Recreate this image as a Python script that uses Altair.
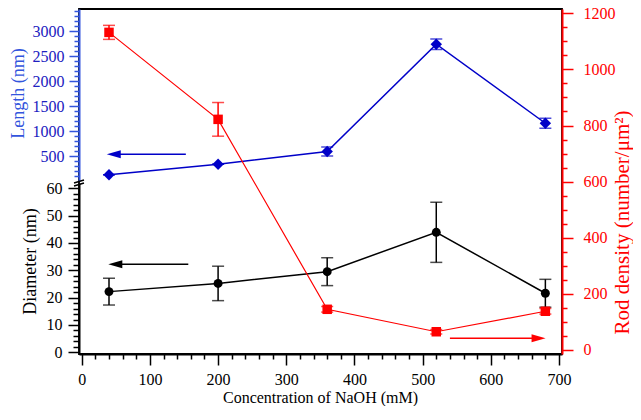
import altair as alt
import pandas as pd

# ---------------- data ----------------
conc = [40, 200, 360, 520, 680]                 # NaOH concentration (mM)
length = [125, 335, 590, 2735, 1155]            # Length (nm)
length_err = [0, 0, 90, 105, 100]
diameter = [22.2, 25.2, 29.5, 43.9, 21.6]       # Diameter (nm)
diameter_err = [4.9, 6.3, 5.1, 11.0, 5.1]
density = [1132, 822, 145, 65, 138]             # Rod density (number/um^2)
density_err = [25, 60, 10, 8, 10]

# arrows (x of head centre / shaft end, level on own axis)
blue_arrow = {"x1": [47], "x2": [152.7], "y": [534]}
black_arrow = {"x1": [49.3], "x2": [156.3], "y": [32.2]}
red_arrow = {"x1": [540], "x2": [670], "y": [41.7]}

x_major = list(range(0, 701, 100))
x_minor = [v for v in range(0, 701, 20) if v % 100]
len_major = list(range(500, 3001, 500))
len_minor = [v for v in range(100, 3401, 100) if v % 500 or v > 3000]
dia_major = list(range(0, 61, 10))
dia_minor = [v for v in range(0, 61, 2) if v % 10]
den_major = list(range(0, 1201, 200))
den_minor = [v for v in range(0, 1201, 50) if v % 200]

FONT = "Liberation Serif"
BLUE = "#0000c8"
BLUE_AX = "#3355dd"
BLUE_LAB = "#2020c0"
RED = "#ff0000"
BLACK = "#000000"

df = pd.DataFrame({
    "conc": conc,
    "length": length,
    "len_lo": [v - e for v, e in zip(length, length_err)],
    "len_hi": [v + e for v, e in zip(length, length_err)],
    "diameter": diameter,
    "dia_lo": [v - e for v, e in zip(diameter, diameter_err)],
    "dia_hi": [v + e for v, e in zip(diameter, diameter_err)],
    "density": density,
    "den_lo": [v - e for v, e in zip(density, density_err)],
    "den_hi": [v + e for v, e in zip(density, density_err)],
})

W, H = 483, 345
xscale = alt.Scale(domain=[-4, 704.4], nice=False, zero=False)
len_scale = alt.Scale(domain=[0, 3440], range=[172, 0], nice=False, zero=False)
dia_scale = alt.Scale(domain=[-0.62, 61.94], range=[345, 174], nice=False, zero=False)
den_scale = alt.Scale(domain=[-14.3, 1215.3], range=[345, 0], nice=False, zero=False)


def minor_axis(orient, values, color, size):
    return alt.Axis(orient=orient, values=values, labels=False, domain=False, grid=False,
                    tickSize=size, tickColor=color, tickWidth=1.5, title=None)


x_axis = alt.Axis(
    values=x_major, format="d", tickSize=11, tickColor=BLACK, tickWidth=1.5,
    domainColor=BLACK, domainWidth=1.8, labelColor=BLACK, labelFont=FONT,
    labelFontSize=16, labelPadding=6, labelOverlap=False, labelFlush=False,
    title="Concentration of NaOH (mM)", titleFont=FONT, titleFontSize=16,
    titleFontWeight="normal", titleColor=BLACK, titleX=241, titleY=43,
    titleBaseline="middle", titleAlign="center", grid=False,
)

len_axis = alt.Axis(
    orient="left", values=len_major, format="d",
    tickSize=10, tickColor=BLUE_AX, tickWidth=1.5,
    domainColor=BLUE_AX, domainWidth=2, labelColor=BLUE_LAB, labelFont=FONT,
    labelFontSize=16, labelPadding=5, labelOverlap=False, labelFlush=False,
    title="Length (nm)", titleFont=FONT, titleFontSize=18, titleFontWeight="normal",
    titleColor=BLUE_AX, titleX=-61, titleY=84, titleAngle=270,
    titleBaseline="middle", titleAlign="center", grid=False,
)

dia_axis = alt.Axis(
    orient="left", values=dia_major, format="d",
    tickSize=11, tickColor=BLACK, tickWidth=1.5,
    domainColor=BLACK, domainWidth=2, labelColor=BLACK, labelFont=FONT,
    labelFontSize=16, labelPadding=6, labelOverlap=False, labelFlush=False,
    title="Diameter (nm)", titleFont=FONT, titleFontSize=18, titleFontWeight="normal",
    titleColor=BLACK, titleX=-49, titleY=252, titleAngle=270,
    titleBaseline="middle", titleAlign="center", grid=False,
)

den_axis = alt.Axis(
    orient="right", values=den_major, format="d",
    tickSize=11, tickColor=RED, tickWidth=1.5,
    domainColor=RED, domainWidth=2, labelColor=RED, labelFont=FONT,
    labelFontSize=16, labelPadding=10, labelOverlap=False, labelFlush=False,
    title="Rod density (number/μm²)", titleFont=FONT, titleFontSize=21,
    titleFontWeight="normal", titleColor=RED, titleX=60, titleY=213, titleAngle=270,
    titleBaseline="middle", titleAlign="center", grid=False,
)

base = alt.Chart(df)
X_noaxis = alt.X("conc:Q", scale=xscale, axis=None)


def series(val, lo, hi, scale, axis, minor, color, shape, size, lw, arrow, arrow_dir,
           x_axis_main=None, x_axis_minor=None):
    Xa = alt.X("conc:Q", scale=xscale, axis=x_axis_main) if x_axis_main else X_noaxis
    Xr = alt.X("conc:Q", scale=xscale, axis=x_axis_minor) if x_axis_minor else X_noaxis
    rule = base.mark_rule(color=color, strokeWidth=1.5).encode(
        x=Xr, y=alt.Y(f"{lo}:Q", scale=scale, axis=minor), y2=f"{hi}:Q")
    cap_lo = base.mark_tick(orient="horizontal", size=12, thickness=1.5, color=color).encode(
        x=X_noaxis, y=alt.Y(f"{lo}:Q", scale=scale, axis=None))
    cap_hi = base.mark_tick(orient="horizontal", size=12, thickness=1.5, color=color).encode(
        x=X_noaxis, y=alt.Y(f"{hi}:Q", scale=scale, axis=None))
    line = base.mark_line(color=color, strokeWidth=lw).encode(
        x=Xa, y=alt.Y(f"{val}:Q", scale=scale, axis=axis))
    pts = base.mark_point(shape=shape, filled=True, size=size, color=color, opacity=1).encode(
        x=X_noaxis, y=alt.Y(f"{val}:Q", scale=scale, axis=None))
    adf = pd.DataFrame(arrow)
    shaft = alt.Chart(adf).mark_rule(color=color, strokeWidth=1.5).encode(
        x=alt.X("x1:Q", scale=xscale, axis=None), x2="x2:Q",
        y=alt.Y("y:Q", scale=scale, axis=None))
    head_x = "x1:Q" if arrow_dir == "left" else "x2:Q"
    head_shape = ("M -1 0 L 1 -0.57 L 1 0.57 Z" if arrow_dir == "left"
                  else "M 1 0 L -1 -0.57 L -1 0.57 Z")
    head = alt.Chart(adf).mark_point(shape=head_shape, filled=True, size=196, color=color,
                                     opacity=1).encode(
        x=alt.X(head_x, scale=xscale, axis=None), y=alt.Y("y:Q", scale=scale, axis=None))
    return [line, rule, cap_lo, cap_hi, pts, shaft, head]


blue_layers = series("length", "len_lo", "len_hi", len_scale, len_axis,
                     minor_axis("left", len_minor, BLUE_AX, 5), BLUE, "diamond", 130, 1.5,
                     blue_arrow, "left", x_axis_main=x_axis)

brk = alt.Chart(pd.DataFrame({"x": [-4], "y": [-30]})).mark_point(
    shape="M -1 0.1 L 1 -0.5 M -1 0.7 L 1 0.1", filled=False, size=100,
    stroke=BLACK, strokeWidth=1.5, opacity=1).encode(
    x=alt.X("x:Q", scale=xscale, axis=None), y=alt.Y("y:Q", scale=len_scale, axis=None))
blue = alt.layer(*blue_layers, brk).resolve_axis(y="independent", x="independent")

black = alt.layer(*series("diameter", "dia_lo", "dia_hi", dia_scale, dia_axis,
                          minor_axis("left", dia_minor, BLACK, 6), BLACK, "circle", 80, 1.5,
                          black_arrow, "left")).resolve_axis(y="independent", x="independent")
red = alt.layer(*series("density", "den_lo", "den_hi", den_scale, den_axis,
                        minor_axis("right", den_minor, RED, 5), RED, "square", 90, 1.2,
                        red_arrow, "right",
                        x_axis_minor=minor_axis("bottom", x_minor, BLACK, 5))
                ).resolve_axis(y="independent", x="independent")

chart = alt.layer(blue, black, red).resolve_scale(y="independent").resolve_axis(
    x="independent").properties(
    width=W, height=H,
    autosize=alt.AutoSizeParams(type="none"),
    padding={"left": 71, "top": 1, "right": 71, "bottom": 52},
    background="white",
).configure_view(stroke=BLACK, strokeWidth=1.8).configure_axis(
    labelFont=FONT, titleFont=FONT)

chart.save("out.html", embed_options={"renderer": "svg", "actions": False})
